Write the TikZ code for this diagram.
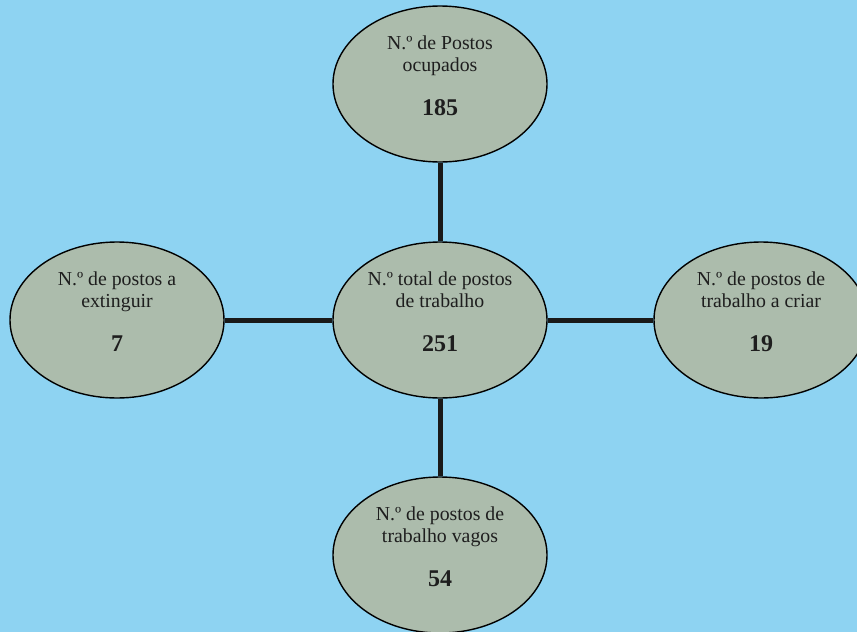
\documentclass[tikz,border=0pt]{standalone}
\usepackage{fontspec}
\setmainfont{Liberation Serif}
\usetikzlibrary{shapes.geometric,calc}
\definecolor{bgblue}{RGB}{142,211,242}
\definecolor{ellfill}{RGB}{172,188,172}
\definecolor{txtcol}{RGB}{30,30,30}
\tikzset{
  bubble/.style={ellipse, draw=black, line width=1.4pt, fill=ellfill, minimum width=214pt, minimum height=156pt, inner sep=0pt},
  lbl/.style={anchor=base, inner sep=0pt, text=txtcol, font=\fontsize{19.8}{22}\selectfont},
  num/.style={anchor=base, inner sep=0pt, text=txtcol, font=\fontsize{24}{24}\selectfont\bfseries},
  link/.style={line width=5pt, draw=black!90}
}
\begin{document}
\begin{tikzpicture}[x=1pt,y=1pt]
\fill[bgblue] (0,0) rectangle (857,-632);
\useasboundingbox (0,0) rectangle (857,-632);
\node[bubble] (top) at (440,-84) {};
\node[bubble] (ctr) at (440,-320) {};
\node[bubble] (lft) at (117,-320) {};
\node[bubble] (rgt) at (761,-320) {};
\node[bubble] (bot) at (440,-555) {};
\draw[link] (top.south) -- (ctr.north);
\draw[link] (ctr.south) -- (bot.north);
\draw[link] (lft.east) -- (ctr.west);
\draw[link] (ctr.east) -- (rgt.west);
% texts
\node[lbl] (top1) at ($(top)+(0,35)$) {N.º de Postos};
\node[lbl] (top2) at ($(top)+(0,13)$) {ocupados};
\node[num] (top3) at ($(top)+(0,-31)$) {185};
\node[lbl] (ctr1) at ($(ctr)+(0,35)$) {N.º total de postos};
\node[lbl] (ctr2) at ($(ctr)+(0,13)$) {de trabalho};
\node[num] (ctr3) at ($(ctr)+(0,-31)$) {251};
\node[lbl] (lft1) at ($(lft)+(0,35)$) {N.º de postos a};
\node[lbl] (lft2) at ($(lft)+(0,13)$) {extinguir};
\node[num] (lft3) at ($(lft)+(0,-31)$) {7};
\node[lbl] (rgt1) at ($(rgt)+(0,35)$) {N.º de postos de};
\node[lbl] (rgt2) at ($(rgt)+(0,13)$) {trabalho a criar};
\node[num] (rgt3) at ($(rgt)+(0,-31)$) {19};
\node[lbl] (bot1) at ($(bot)+(0,35)$) {N.º de postos de};
\node[lbl] (bot2) at ($(bot)+(0,13)$) {trabalho vagos};
\node[num] (bot3) at ($(bot)+(0,-31)$) {54};
\end{tikzpicture}
\end{document}
